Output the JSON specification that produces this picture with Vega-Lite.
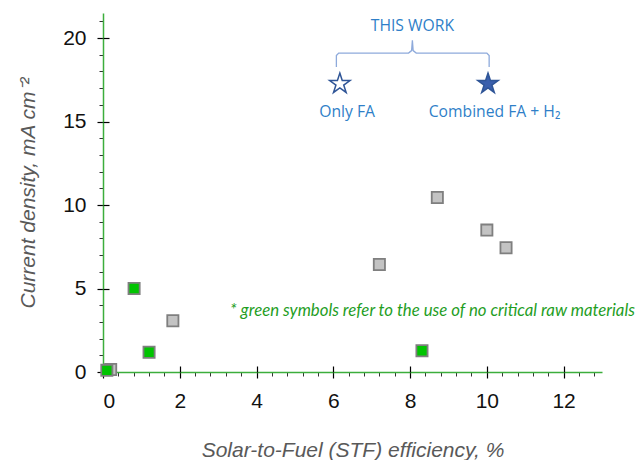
{
  "$schema": "https://vega.github.io/schema/vega-lite/v6.json",
  "autosize": "none",
  "width": 499,
  "height": 359,
  "padding": {"left": 103, "top": 13, "right": 34, "bottom": 88},
  "background": "white",
  "config": {"view": {"stroke": null}, "axis": {"grid": false}},
  "datasets": {
    "squares": [
      {"stf": 0.2, "j": 0.15, "kind": "grey"},
      {"stf": 1.82, "j": 3.07, "kind": "grey"},
      {"stf": 7.2, "j": 6.44, "kind": "grey"},
      {"stf": 8.71, "j": 10.45, "kind": "grey"},
      {"stf": 10.0, "j": 8.5, "kind": "grey"},
      {"stf": 10.5, "j": 7.44, "kind": "grey"},
      {"stf": 0.1, "j": 0.1, "kind": "green"},
      {"stf": 0.81, "j": 5.0, "kind": "green"},
      {"stf": 1.2, "j": 1.18, "kind": "green"},
      {"stf": 8.31, "j": 1.27, "kind": "green"}
    ],
    "stars": [
      {"stf": 6.17, "j": 17.26, "kind": "open"},
      {"stf": 10.03, "j": 17.26, "kind": "filled"}
    ],
    "brace": [
      {"stf": 6.08, "j": 18.26, "o": 1},
      {"stf": 6.08, "j": 18.95, "o": 2},
      {"stf": 6.14, "j": 19.1, "o": 3},
      {"stf": 7.96, "j": 19.1, "o": 4},
      {"stf": 8.04, "j": 19.25, "o": 5},
      {"stf": 8.06, "j": 19.86, "o": 6},
      {"stf": 8.08, "j": 19.25, "o": 7},
      {"stf": 8.16, "j": 19.1, "o": 8},
      {"stf": 10.0, "j": 19.1, "o": 9},
      {"stf": 10.06, "j": 18.95, "o": 10},
      {"stf": 10.06, "j": 18.26, "o": 11}
    ],
    "bluelabels": [
      {"stf": 8.06, "j": 20.74, "label": "THIS WORK"},
      {"stf": 6.36, "j": 15.6, "label": "Only FA"},
      {"stf": 10.2, "j": 15.6, "label": "Combined FA + H₂"}
    ],
    "note": [
      {"stf": 3.31, "j": 3.63, "label": "* green symbols refer to the use of no critical raw materials"}
    ]
  },
  "resolve": {"axis": {"x": "independent", "y": "independent"}, "scale": {"fill": "independent"}},
  "layer": [
    {
      "data": {"name": "brace"},
      "mark": {"type": "line", "color": "#8eaadb", "strokeWidth": 1.3},
      "encoding": {
        "x": {"field": "stf", "type": "quantitative", "scale": {"domain": [0, 13], "nice": false, "zero": false},
          "axis": {"orient": "bottom", "values": [0.4,0.8,1.2,1.6,2.4,2.8,3.2,3.6,4.4,4.8,5.2,5.6,6.4,6.8,7.2,7.6,8.4,8.8,9.2,9.6,10.4,10.8,11.2,11.6,12.4,12.8], "tickSize": 4, "tickColor": "#333", "labels": false, "domain": false, "title": null}},
        "y": {"field": "j", "type": "quantitative", "scale": {"domain": [0, 21.5], "nice": false, "zero": false},
          "axis": {"orient": "left", "values": [1,2,3,4,6,7,8,9,11,12,13,14,16,17,18,19,21], "tickSize": 4, "tickColor": "#333", "labels": false, "domain": false, "title": null}},
        "order": {"field": "o", "type": "quantitative"}
      }
    },
    {
      "data": {"name": "squares"},
      "mark": {"type": "point", "shape": "square", "filled": true, "size": 125, "stroke": "#7f7f7f", "strokeWidth": 1.8, "opacity": 1},
      "encoding": {
        "x": {"field": "stf", "type": "quantitative",
          "axis": {"orient": "bottom", "values": [0,2,4,6,8,10,12], "tickSize": 6, "tickColor": "#000", "tickWidth": 1.2, "domainColor": "#3cae3c", "domainWidth": 1.5, "labelFont": "Liberation Sans", "labelFontSize": 21, "labelColor": "#111", "labelPadding": 12, "title": "Solar-to-Fuel (STF) efficiency, %", "titleFont": "Liberation Sans", "titleFontSize": 21, "titleFontStyle": "italic", "titleFontWeight": "normal", "titleColor": "#595959", "titlePadding": 28}},
        "y": {"field": "j", "type": "quantitative",
          "axis": {"orient": "left", "values": [0,5,10,15,20], "tickSize": 6, "tickColor": "#000", "tickWidth": 1.2, "domainColor": "#3cae3c", "domainWidth": 1.5, "labelFont": "Liberation Sans", "labelFontSize": 21, "labelColor": "#111", "labelPadding": 11, "title": "Current density, mA cm⁻²", "titleFont": "Liberation Sans", "titleFontSize": 21, "titleFontStyle": "italic", "titleFontWeight": "normal", "titleColor": "#595959", "titlePadding": 24}},
        "fill": {"field": "kind", "type": "nominal", "scale": {"domain": ["grey", "green"], "range": ["#c3c3c3", "#00c400"]}, "legend": null}
      }
    },
    {
      "data": {"name": "stars"},
      "mark": {"type": "point", "shape": "M0,-1L0.2245,-0.309L0.951,-0.309L0.363,0.118L0.588,0.809L0,0.382L-0.588,0.809L-0.363,0.118L-0.951,-0.309L-0.2245,-0.309Z", "size": 460, "stroke": "#2f5597", "strokeWidth": 1.5, "filled": true, "opacity": 1},
      "encoding": {
        "x": {"field": "stf", "type": "quantitative",
          "axis": {"orient": "bottom", "values": [0,2,4,6,8,10,12], "tickSize": -6, "tickColor": "#000", "tickWidth": 1.2, "labels": false, "domain": false, "title": null}},
        "y": {"field": "j", "type": "quantitative",
          "axis": {"orient": "left", "values": [0,5,10,15,20], "tickSize": -6, "tickColor": "#000", "tickWidth": 1.2, "labels": false, "domain": false, "title": null}},
        "fill": {"field": "kind", "type": "nominal", "scale": {"domain": ["open", "filled"], "range": ["#ffffff", "#3a5fad"]}, "legend": null}
      }
    },
    {
      "data": {"name": "bluelabels"},
      "mark": {"type": "text", "font": "Open Sans", "fontSize": 15.7, "color": "#2f7fc8", "align": "center", "baseline": "middle"},
      "encoding": {
        "x": {"field": "stf", "type": "quantitative", "axis": null},
        "y": {"field": "j", "type": "quantitative", "axis": null},
        "text": {"field": "label"}
      }
    },
    {
      "data": {"name": "note"},
      "mark": {"type": "text", "font": "Lato", "fontSize": 16.8, "fontStyle": "italic", "color": "#1f9e1f", "align": "left", "baseline": "middle"},
      "encoding": {
        "x": {"field": "stf", "type": "quantitative", "axis": null},
        "y": {"field": "j", "type": "quantitative", "axis": null},
        "text": {"field": "label"}
      }
    }
  ]
}
